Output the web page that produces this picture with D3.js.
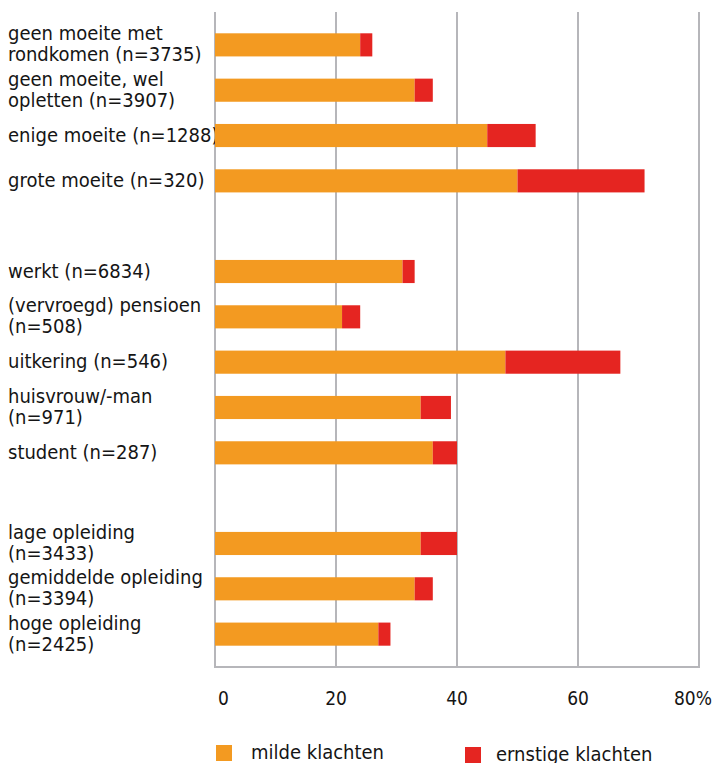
<!DOCTYPE html>
<html lang="nl">
<head>
    <meta charset="UTF-8">
    <title>Klachten naar groep</title>
    <script src="https://cdnjs.cloudflare.com/ajax/libs/d3/7.8.5/d3.min.js"></script>
    <style>
        body { margin: 0; background: #fff; }
        text { font-family: "DejaVu Sans Condensed", "DejaVu Sans", sans-serif; fill: #151515; }
    </style>
</head>
<body>
    <div id="draw-here"></div>

    <script>
        var w = 714;
        var h = 763;

        // labels, "\n" marks a line break
        var categories = [
            "geen moeite met\nrondkomen (n=3735)",
            "geen moeite, wel\nopletten (n=3907)",
            "enige moeite (n=1288)",
            "grote moeite (n=320)",
            "werkt (n=6834)",
            "(vervroegd) pensioen\n(n=508)",
            "uitkering (n=546)",
            "huisvrouw/-man\n(n=971)",
            "student (n=287)",
            "lage opleiding\n(n=3433)",
            "gemiddelde opleiding\n(n=3394)",
            "hoge opleiding\n(n=2425)"
        ];
        // an empty row comes before these indexes
        var groupStarts = [4, 9];

        var milde = [24, 33, 45, 50, 31, 21, 48, 34, 36, 34, 33, 27];
        var ernstig = [2, 3, 8, 21, 2, 3, 19, 5, 4, 6, 3, 2];

        var tickValues = [0, 20, 40, 60, 80];
        var tickLabels = ["0", "20", "40", "60", "80%"];

        var seriesNames = ["milde klachten", "ernstige klachten"];
        var colors = ["#f39a21", "#e52521"];
        var gridColor = "#b6b6ba";

        // build the row keys, with spacer rows between the groups
        var rows = [];
        categories.forEach(function (c, i) {
            if (groupStarts.indexOf(i) >= 0) rows.push("spacer" + i);
            rows.push(c);
        });

        var x = d3.scaleLinear().domain([0, 80]).range([215, 699]);
        var y = d3.scaleBand()
            .domain(rows)
            .range([12, 667])
            .paddingInner(0.49)
            .paddingOuter(0.47);

        var svg = d3.select("#draw-here")
            .append("svg")
            .attr("width", w)
            .attr("height", h);

        // vertical grid lines
        svg.selectAll("line.grid")
            .data(tickValues)
            .enter()
            .append("line")
            .attr("class", "grid")
            .attr("x1", function (d) { return x(d); })
            .attr("x2", function (d) { return x(d); })
            .attr("y1", 12)
            .attr("y2", 667)
            .attr("stroke", gridColor)
            .attr("stroke-width", 2);

        // bottom line
        svg.append("line")
            .attr("x1", x(0) - 1)
            .attr("x2", x(80) + 1)
            .attr("y1", 667)
            .attr("y2", 667)
            .attr("stroke", gridColor)
            .attr("stroke-width", 2);

        // category labels (drawn before the bars, the bars may cover them)
        var lineH = 21;
        var labels = svg.selectAll("text.cat")
            .data(categories)
            .enter()
            .append("text")
            .attr("class", "cat")
            .attr("font-size", "20px")
            .attr("x", 8)
            .attr("y", function (d) {
                var n = d.split("\n").length;
                return y(d) + y.bandwidth() / 2 + 6 - (n - 1) * lineH / 2;
            });
        labels.selectAll("tspan")
            .data(function (d) { return d.split("\n"); })
            .enter()
            .append("tspan")
            .attr("x", 8)
            .attr("dy", function (d, i) { return i === 0 ? 0 : lineH; })
            .text(function (d) { return d; });

        // stacked bars
        var stackData = categories.map(function (c, i) {
            return { cat: c, milde: milde[i], ernstig: ernstig[i] };
        });
        var stack = d3.stack().keys(["milde", "ernstig"]);
        var layers = stack(stackData);

        svg.selectAll("g.layer")
            .data(layers)
            .enter()
            .append("g")
            .attr("class", "layer")
            .attr("fill", function (d, i) { return colors[i]; })
            .selectAll("rect")
            .data(function (d) { return d; })
            .enter()
            .append("rect")
            .attr("x", function (d) { return x(d[0]); })
            .attr("width", function (d) { return x(d[1]) - x(d[0]); })
            .attr("y", function (d) { return y(d.data.cat); })
            .attr("height", y.bandwidth());

        // x tick labels
        svg.selectAll("text.tick")
            .data(tickValues)
            .enter()
            .append("text")
            .attr("class", "tick")
            .attr("font-size", "19px")
            .attr("y", 705)
            .attr("x", function (d, i) {
                if (i === 0) return x(d) + 3;
                if (i === tickValues.length - 1) return x(d) + 13;
                return x(d);
            })
            .attr("text-anchor", function (d, i) {
                if (i === 0) return "start";
                if (i === tickValues.length - 1) return "end";
                return "middle";
            })
            .text(function (d, i) { return tickLabels[i]; });

        // legend
        var legendX = [216, 465];
        var legend = svg.selectAll("g.legend")
            .data(seriesNames)
            .enter()
            .append("g")
            .attr("class", "legend")
            .attr("transform", function (d, i) {
                return "translate(" + legendX[i] + "," + (745 + i * 2) + ")";
            });
        legend.append("rect")
            .attr("width", 16)
            .attr("height", 16)
            .attr("fill", function (d, i) { return colors[i]; });
        legend.append("text")
            .attr("x", function (d, i) { return i === 0 ? 35 : 31; })
            .attr("y", 14)
            .attr("font-size", "20px")
            .text(function (d) { return d; });
    </script>
</body>
</html>
